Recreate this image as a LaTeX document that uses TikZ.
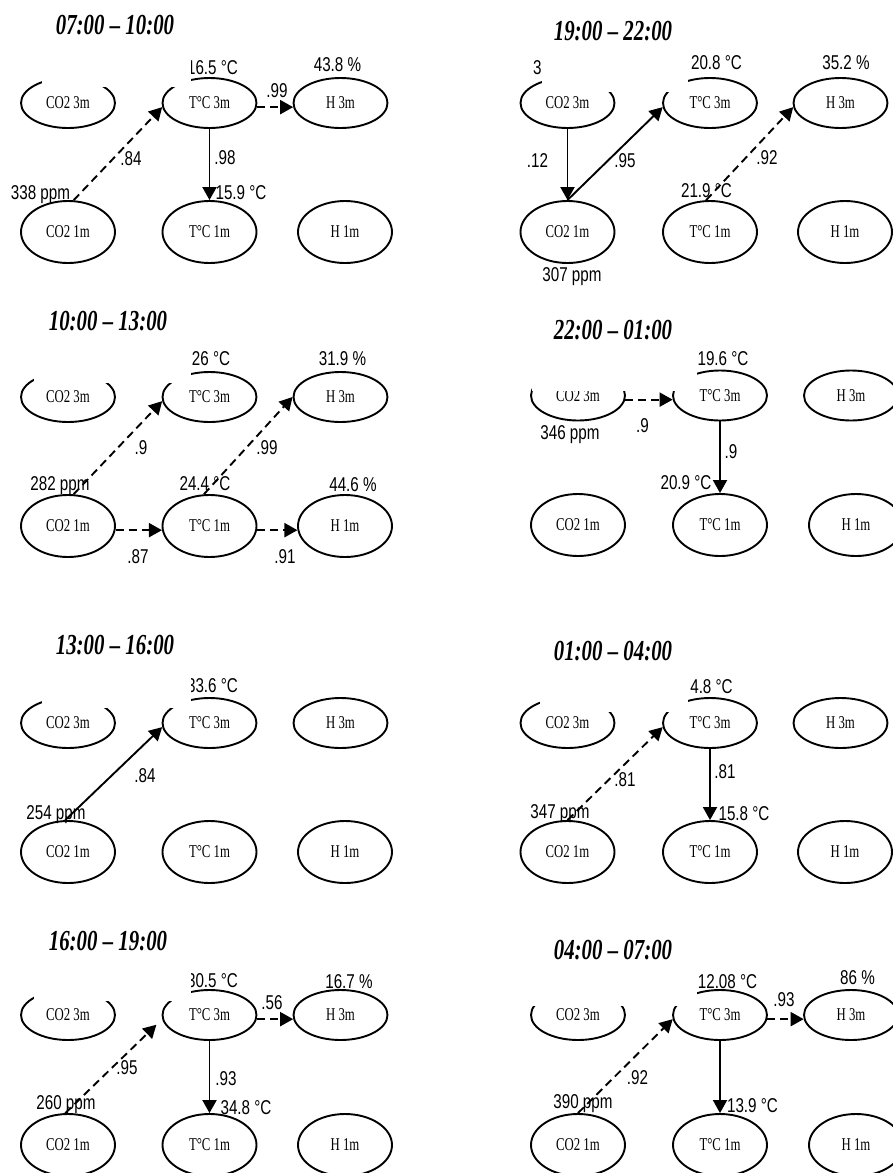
\documentclass[tikz,border=0pt]{standalone}
\usepackage{fontspec}
\usetikzlibrary{shapes.geometric,arrows.meta}
\newfontfamily\labfont[FakeStretch=0.76]{Liberation Sans}
\newfontfamily\nodefont[FakeStretch=0.71]{Liberation Serif}
\newfontfamily\ttlfont[FakeStretch=0.72]{Liberation Serif}
\tikzset{
 var/.style={ellipse, draw, line width=1.9pt, inner sep=0pt, minimum width=94pt, font=\nodefont\fontsize{18}{21}\selectfont},
 vtop/.style={var, minimum height=50pt},
 vbot/.style={var, minimum height=62pt},
 lab/.style={inner sep=0pt, font=\labfont\fontsize{20}{24}\selectfont, text height=14.3pt, text depth=0pt},
 ttl/.style={inner sep=0pt, font=\ttlfont\bfseries\itshape\fontsize{29}{34}\selectfont},
 link/.style={line width=1.9pt, -{Triangle[length=13pt,width=14pt]}},
 dlink/.style={link, dash pattern=on 8pt off 5pt},
 mask/.style={fill=white}
}
\newcommand\mkpanel[7]{%
 \node[vtop] (#1c3) at (#2,#6) {CO2 3m};
 \node[vtop] (#1t3) at (#3,#6) {T°C 3m};
 \node[vtop] (#1h3) at (#4,#6) {H 3m};
 \node[vbot] (#1c1) at (#2,#7) {CO2 1m};
 \node[vbot] (#1t1) at (#3,#7) {T°C 1m};
 \node[vbot] (#1h1) at (#5,#7) {H 1m};}
\begin{document}
\begin{tikzpicture}[x=1pt,y=-1pt]
\useasboundingbox (0,0) rectangle (893,1173);
\clip (0,0) rectangle (893,1173);
% ---- ellipses
\mkpanel{La}{68}{209.5}{340.5}{345}{103}{232}
\mkpanel{Lb}{68}{209.5}{340.5}{345}{397}{526}
\mkpanel{Lc}{68}{209.5}{340.5}{345}{723}{852}
\mkpanel{Ld}{68}{209.5}{340.5}{345}{1015}{1145}
\mkpanel{Ra}{567.5}{710}{840.5}{845}{103}{232}
\mkpanel{Rb}{578}{720}{851}{856}{395.5}{525}
\mkpanel{Rc}{567.5}{710}{840.5}{845}{723}{852}
\mkpanel{Rd}{578}{720}{851}{856}{1015}{1145}
% ---- titles
\node[ttl] (tLa) at (115,25) {07:00 – 10:00};
\node[ttl] (tLb) at (108,321) {10:00 – 13:00};
\node[ttl] (tLc) at (115,645) {13:00 – 16:00};
\node[ttl] (tLd) at (108,941) {16:00 – 19:00};
\node[ttl] (tRa) at (613,31) {19:00 – 22:00};
\node[ttl] (tRb) at (613,330) {22:00 – 01:00};
\node[ttl] (tRc) at (613,651) {01:00 – 04:00};
\node[ttl] (tRd) at (613,950) {04:00 – 07:00};
% ---- labels panel La
\node[lab] (a1) at (212.5,67.5) {16.5 °C};
\node[lab] (a2) at (337.5,64) {43.8 \%};
\node[lab] (a3) at (277,90) {.99};
\node[lab] (a4) at (131,158) {.84};
\node[lab] (a5) at (40.5,192) {338 ppm};
\node[lab] (a6) at (225,157) {.98};
\node[lab] (a7) at (241,192) {15.9 °C};
% ---- labels panel Lb
\node[lab] (b1) at (211,358) {26 °C};
\node[lab] (b2) at (342.5,358) {31.9 \%};
\node[lab] (b3) at (141,447) {.9};
\node[lab] (b4) at (267,447) {.99};
\node[lab] (b5) at (60,483) {282 ppm};
\node[lab] (b6) at (205,483) {24.4 °C};
\node[lab] (b7) at (353,484) {44.6 \%};
\node[lab] (b8) at (138,556) {.87};
\node[lab] (b9) at (285,556) {.91};
% ---- labels panel Lc
\node[lab] (c1) at (212.5,685) {33.6 °C};
\node[lab] (c2) at (145,775) {.84};
\node[lab] (c3) at (56,812) {254 ppm};
% ---- labels panel Ld
\node[lab] (d1) at (212.5,980) {30.5 °C};
\node[lab] (d2) at (272,1002) {.56};
\node[lab] (d3) at (349,981) {16.7 \%};
\node[lab] (d4) at (127,1067) {.95};
\node[lab] (d5) at (66,1102) {260 ppm};
\node[lab] (d6) at (226,1078) {.93};
\node[lab] (d7) at (246,1107) {34.8 °C};
% ---- labels panel Ra
\node[lab,anchor=west] (e1) at (533,67) {3};
\node[lab] (e2) at (716.5,62) {20.8 °C};
\node[lab] (e3) at (846,62) {35.2 \%};
\node[lab] (e4) at (537.5,160) {.12};
\node[lab] (e5) at (625,160) {.95};
\node[lab] (e6) at (767,157) {.92};
\node[lab] (e7) at (706.5,190) {21.9 °C};
\node[lab] (e8) at (572,274) {307 ppm};
% ---- labels panel Rb
\node[lab] (f1) at (723,358) {19.6 °C};
\node[lab] (f2) at (642.5,425) {.9};
\node[lab] (f3) at (570,432) {346 ppm};
\node[lab] (f4) at (731,451) {.9};
\node[lab] (f5) at (686,482) {20.9 °C};
% ---- labels panel Rc
\node[lab] (g1) at (711.5,686) {4.8 °C};
\node[lab] (g2) at (625,779) {.81};
\node[lab] (g3) at (560,811) {347 ppm};
\node[lab] (g4) at (725,771) {.81};
\node[lab] (g5) at (744,813) {15.8 °C};
% ---- labels panel Rd
\node[lab] (h1) at (727.5,981) {12.08 °C};
\node[lab] (h2) at (857.5,977) {86 \%};
\node[lab] (h3) at (784,999) {.93};
\node[lab] (h4) at (637.5,1077) {.92};
\node[lab] (h5) at (583,1101) {390 ppm};
\node[lab] (h6) at (752.5,1105) {13.9 °C};
% ---- occluding white boxes
\fill[mask] (42,45) rectangle (191,87);
\fill[mask] (34,340) rectangle (191,383);
\fill[mask] (42,665) rectangle (191,708);
\fill[mask] (34,960) rectangle (191,1001);
\fill[mask] (542,45) rectangle (688,92);
\fill[mask] (532,345) rectangle (697,390.5);
\fill[mask] (540,665) rectangle (688,712);
\fill[mask] (532,965) rectangle (697,1006);
% ---- connectors La
\draw[dlink] (Lat3.355) -- (Lah3.185);
\draw[dlink] (Lac1.80) -- (Lat3.185);
\draw[link] (Lat3.south) -- (Lat1.north);
% ---- connectors Lb
\draw[dlink] (Lbc1.80) -- (Lbt3.185);
\draw[dlink] (Lbt1.100) -- (Lbh3.west);
\draw[dlink] (Lbc1.355) -- (Lbt1.185);
\draw[dlink] (Lbt1.355) -- (Lbh1.185);
% ---- connectors Lc
\draw[link] (Lcc1.95) -- (Lct3.185);
% ---- connectors Ld
\draw[dlink, shorten >=8pt] (Ldc1.95) -- (Ldt3.185);
\draw[link] (Ldt3.south) -- (Ldt1.north);
\draw[dlink] (Ldt3.355) -- (Ldh3.185);
% ---- connectors Ra
\draw[link] (Rac3.south) -- (Rac1.north);
\draw[link] (Rac1.north) -- (Rat3.185);
\draw[dlink] (Rat1.97) -- (Rah3.185);
% ---- connectors Rb
\draw[dlink] (Rbc3.355) -- (Rbt3.185);
\draw[link] (Rbt3.south) -- (Rbt1.north);
% ---- connectors Rc
\draw[dlink] (Rcc1.north) -- (Rct3.185);
\draw[link] (Rct3.south) -- (Rct1.north);
% ---- connectors Rd
\draw[dlink] (Rdc1.north) -- (Rdt3.185);
\draw[link] (Rdt3.south) -- (Rdt1.north);
\draw[dlink] (Rdt3.355) -- (Rdh3.185);
\end{tikzpicture}
\end{document}
